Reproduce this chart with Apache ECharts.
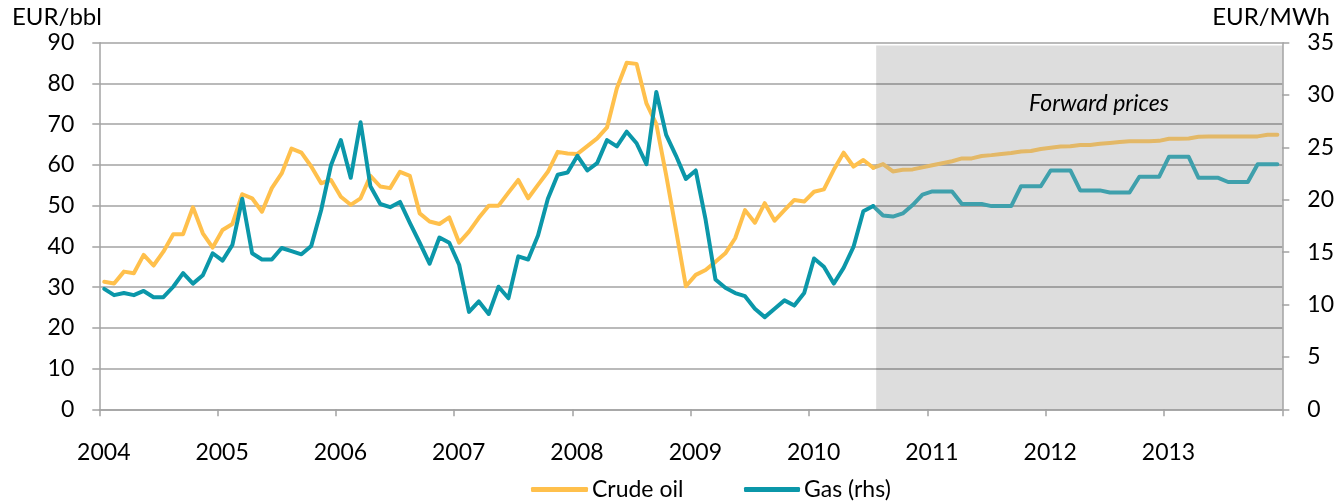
<!DOCTYPE html>
<html>
<head>
<meta charset="utf-8">
<title>Crude oil and gas prices</title>
<script src="https://cdn.jsdelivr.net/npm/echarts@6/dist/echarts.min.js"></script>
<style>
    html, body { margin: 0; padding: 0; background: #fff; }
    #chart-box { width: 1337px; height: 502px; }
</style>
</head>
<body>
<div id="chart-box"></div>
<script>
// 月度数据 2004-01 ... 2013-12 (120 个月)
var yearLabels = ['2004', '2005', '2006', '2007', '2008', '2009', '2010', '2011', '2012', '2013'];

// crude oil, EUR/bbl
var oilValues = [
    31.3, 30.9, 33.8, 33.4, 37.9, 35.3, 38.7, 43.0, 43.0, 49.6, 43.2, 39.7,
    44.0, 45.5, 52.8, 51.8, 48.5, 54.3, 57.9, 64.0, 63.0, 59.6, 55.5, 56.3,
    52.2, 50.2, 51.8, 57.3, 54.7, 54.3, 58.3, 57.3, 48.1, 46.1, 45.5, 47.1,
    40.9, 43.6, 47.0, 50.0, 50.0, 53.2, 56.3, 51.8, 55.1, 58.3, 63.2, 62.8,
    62.7, 64.6, 66.5, 69.2, 78.8, 85.1, 84.8, 75.1, 70.0, 57.5, 44.0, 30.2,
    33.0, 34.2, 36.2, 38.3, 42.0, 48.9, 45.8, 50.6, 46.3, 48.9, 51.4, 51.0,
    53.4, 54.0, 58.8, 63.0, 59.6, 61.2, 59.3, 60.2, 58.4, 58.8, 58.9, 59.4,
    59.9, 60.4, 60.9, 61.6, 61.6, 62.2, 62.4, 62.7, 62.9, 63.3, 63.4, 63.9,
    64.2, 64.5, 64.6, 64.9, 64.9, 65.2, 65.4, 65.6, 65.8, 65.8, 65.8, 65.9,
    66.4, 66.4, 66.5, 66.9, 67.0, 67.0, 67.0, 67.0, 67.0, 67.0, 67.4, 67.4
];

// gas, EUR/MWh (rhs)
var gasValues = [
    11.5, 10.9, 11.1, 10.9, 11.3, 10.7, 10.7, 11.7, 13.0, 12.0, 12.8, 14.9,
    14.2, 15.7, 20.1, 14.9, 14.3, 14.3, 15.4, 15.1, 14.8, 15.6, 19.0, 23.3,
    25.7, 22.1, 27.4, 21.3, 19.6, 19.3, 19.8, 17.8, 15.9, 13.9, 16.4, 15.9,
    13.8, 9.3, 10.3, 9.1, 11.7, 10.6, 14.6, 14.3, 16.6, 20.1, 22.4, 22.6,
    24.2, 22.8, 23.5, 25.7, 25.1, 26.5, 25.4, 23.4, 30.3, 26.2, 24.2, 22.0,
    22.8, 18.1, 12.4, 11.6, 11.1, 10.8, 9.6, 8.8, 9.6, 10.4, 9.9, 11.1,
    14.4, 13.6, 12.0, 13.5, 15.5, 18.9, 19.4, 18.5, 18.4, 18.7, 19.5, 20.5,
    20.8, 20.8, 20.8, 19.6, 19.6, 19.6, 19.4, 19.4, 19.4, 21.3, 21.3, 21.3,
    22.8, 22.8, 22.8, 20.9, 20.9, 20.9, 20.7, 20.7, 20.7, 22.2, 22.2, 22.2,
    24.1, 24.1, 24.1, 22.1, 22.1, 22.1, 21.7, 21.7, 21.7, 23.4, 23.4, 23.4
];

// 远期价格从 2010-07 开始
var forwardStart = 78;

var fontName = 'Lato';

// 把月度数组转换为 [x, value]，x 位于每个月的中间
function toPoints(values, from, to) {
    var res = [];
    for (var i = from; i <= to; i++) {
        res.push([i + 0.5, values[i]]);
    }
    return res;
}

var chart = echarts.init(document.querySelector('#chart-box'));

var axisGray = '#A3A3A3';

var option = {
    animation: false,
    grid: {
        left: 99.3,
        right: 54.3,
        top: 42.7,
        bottom: 92.7
    },
    legend: [
        {
            data: ['Crude oil'],
            left: 526,
            top: 473,
            icon: 'roundRect',
            itemWidth: 57,
            itemHeight: 5,
            itemGap: 0,
            textStyle: { fontFamily: fontName, fontSize: 23, color: '#000', padding: [0, 0, 0, -1] }
        },
        {
            data: ['Gas (rhs)'],
            left: 739,
            top: 473,
            icon: 'roundRect',
            itemWidth: 56,
            itemHeight: 5,
            itemGap: 0,
            textStyle: { fontFamily: fontName, fontSize: 23, color: '#000', padding: [0, 0, 0, -1] }
        }
    ],
    xAxis: {
        type: 'value',
        min: 0,
        max: 120,
        interval: 12,
        axisLine: { show: true, lineStyle: { color: axisGray, width: 1.5 } },
        axisTick: { show: true, length: 7, lineStyle: { color: axisGray, width: 1.5 } },
        splitLine: { show: false },
        axisLabel: {
            margin: 32,
            fontFamily: fontName,
            fontSize: 23,
            color: '#000',
            padding: [0, 0, 0, 9],
            formatter: function (v) {
                var k = Math.round(v / 12);
                return k < yearLabels.length ? yearLabels[k] : '';
            }
        }
    },
    yAxis: [
        {
            type: 'value',
            min: 0,
            max: 90,
            interval: 10,
            axisLine: { show: true, lineStyle: { color: axisGray, width: 1.5 } },
            axisTick: { show: true, length: 7, lineStyle: { color: axisGray, width: 1.5 } },
            splitLine: { show: true, lineStyle: { color: axisGray, width: 1.5 } },
            axisLabel: { margin: 25, fontFamily: fontName, fontSize: 23, color: '#000' }
        },
        {
            type: 'value',
            min: 0,
            max: 35,
            interval: 5,
            position: 'right',
            axisLine: { show: true, lineStyle: { color: axisGray, width: 1.5 } },
            axisTick: { show: true, length: 7, lineStyle: { color: axisGray, width: 1.5 } },
            splitLine: { show: false },
            axisLabel: { margin: 25, fontFamily: fontName, fontSize: 23, color: '#000' }
        }
    ],
    graphic: [
        {
            type: 'text',
            left: 12,
            top: 5,
            style: { text: 'EUR/bbl', font: '24px ' + fontName, fill: '#000' }
        },
        {
            type: 'text',
            right: 7,
            top: 5,
            style: { text: 'EUR/MWh', font: '24px ' + fontName, fill: '#000' }
        },
        {
            type: 'text',
            x: 1099,
            y: 104,
            z: 10,
            style: {
                text: 'Forward prices',
                font: 'italic 23px ' + fontName,
                fill: '#000',
                align: 'center',
                verticalAlign: 'middle'
            }
        }
    ],
    series: [
        {
            name: 'Crude oil',
            type: 'line',
            yAxisIndex: 0,
            showSymbol: false,
            symbol: 'none',
            z: 4,
            color: '#FFC04C',
            lineStyle: { width: 4, color: '#FFC04C', join: 'round', cap: 'round' },
            data: toPoints(oilValues, 0, forwardStart)
        },
        {
            name: 'Gas (rhs)',
            type: 'line',
            yAxisIndex: 1,
            showSymbol: false,
            symbol: 'none',
            z: 5,
            color: '#0B97A9',
            lineStyle: { width: 4, color: '#0B97A9', join: 'round', cap: 'round' },
            data: toPoints(gasValues, 0, forwardStart)
        },
        {
            // 远期油价 + 灰色背景
            name: 'Crude oil forward',
            type: 'line',
            yAxisIndex: 0,
            showSymbol: false,
            symbol: 'none',
            z: 3,
            lineStyle: { width: 4, color: '#E3B867', join: 'round', cap: 'round' },
            data: toPoints(oilValues, forwardStart, oilValues.length - 1),
            markArea: {
                silent: true,
                itemStyle: { color: 'rgba(0,0,0,0.135)' },
                data: [[{ coord: [78.8, 0] }, { coord: [120, 89.3] }]]
            }
        },
        {
            name: 'Gas forward',
            type: 'line',
            yAxisIndex: 1,
            showSymbol: false,
            symbol: 'none',
            z: 3,
            lineStyle: { width: 4, color: '#3FA0AC', join: 'round', cap: 'round' },
            data: toPoints(gasValues, forwardStart, gasValues.length - 1)
        }
    ]
};

chart.setOption(option);
</script>
</body>
</html>
